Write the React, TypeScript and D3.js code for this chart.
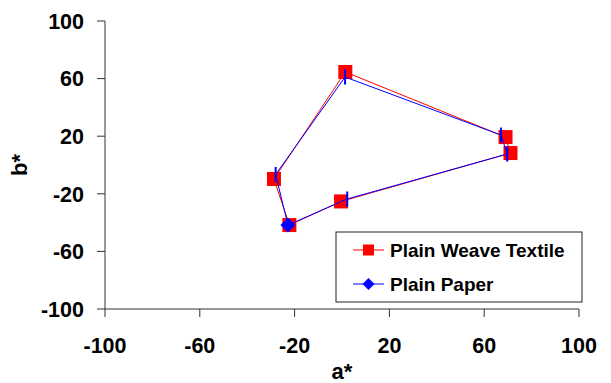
import * as d3 from 'd3';

// Colour coordinates
const textileA = [1.4, 69.0, 71.1, -0.4, -22.2, -28.7, 1.4];
const textileB = [64.6, 19.4, 8.3, -25.3, -41.7, -9.7, 64.6];
const paperA = [1.3, 67.1, 69.7, 2.2, -22.8, -28.0, 1.3];
const paperB = [61.1, 20.8, 7.6, -23.6, -41.7, -6.6, 61.1];
const paperMarkers = ['bar', 'bar', 'bar', 'bar', 'diamond', 'bar', 'bar'];

const xTicks = [-100, -60, -20, 20, 60, 100];
const yTicks = [-100, -60, -20, 20, 60, 100];
const seriesNames = ['Plain Weave Textile', 'Plain Paper'];

const width = 611;
const height = 383;
const margin = { top: 21, right: 32, bottom: 74, left: 105 };
const font = 'Arial, "Liberation Sans", sans-serif';
const axisColor = '#333';

export default function App() {
  const x = d3.scaleLinear().domain([-100, 100]).range([margin.left, width - margin.right]);
  const y = d3.scaleLinear().domain([-100, 100]).range([height - margin.bottom, margin.top]);

  const line = d3
    .line<[number, number]>()
    .x((d) => x(d[0]))
    .y((d) => y(d[1]));

  const textile = textileA.map((a, i) => [a, textileB[i]] as [number, number]);
  const paper = paperA.map((a, i) => [a, paperB[i]] as [number, number]);

  const diamond = (cx: number, cy: number, r: number) =>
    `M${cx},${cy - r}L${cx + r},${cy}L${cx},${cy + r}L${cx - r},${cy}Z`;

  const x0 = x(-100);
  const y0 = y(-100);

  // legend box
  const lg = { x: 336, y: 232, w: 246, h: 70 };

  return (
    <svg
      width={width}
      height={height}
      style={{ position: 'absolute', left: 0, top: 0, background: '#fff' }}
      fontFamily={font}
    >
      {/* Axes */}
      <line x1={x0} x2={x0} y1={y(100)} y2={y0} stroke={axisColor} strokeWidth={1} />
      <line x1={x0} x2={x(100)} y1={y0} y2={y0} stroke={axisColor} strokeWidth={1} />
      {yTicks.map((t) => (
        <g key={`y${t}`}>
          <line x1={x0 - 8} x2={x0} y1={y(t)} y2={y(t)} stroke={axisColor} />
          <text
            x={x0 - 21}
            y={y(t)}
            dy="0.36em"
            textAnchor="end"
            fontSize={21.5}
            fontWeight="bold"
          >
            {t}
          </text>
        </g>
      ))}
      {xTicks.map((t) => (
        <g key={`x${t}`}>
          <line x1={x(t)} x2={x(t)} y1={y0} y2={y0 + 8} stroke={axisColor} />
          <text x={x(t)} y={y0 + 44} textAnchor="middle" fontSize={21.5} fontWeight="bold">
            {t}
          </text>
        </g>
      ))}
      <text
        transform={`translate(27,${(y(100) + y0) / 2}) rotate(-90)`}
        textAnchor="middle"
        fontSize={22}
        fontWeight="bold"
      >
        b*
      </text>
      <text
        x={(x0 + x(100)) / 2}
        y={379}
        textAnchor="middle"
        fontSize={22}
        fontWeight="bold"
      >
        a*
      </text>

      {/* Plain Weave Textile */}
      <path d={line(textile) || ''} fill="none" stroke="#ff0000" strokeWidth={1} />
      {textile.slice(0, -1).map((d, i) => (
        <rect key={`t${i}`} x={x(d[0]) - 7} y={y(d[1]) - 7} width={14} height={14} fill="#ff0000" />
      ))}

      {/* Plain Paper */}
      <path d={line(paper) || ''} fill="none" stroke="#0000ff" strokeWidth={1} />
      {paper.slice(0, -1).map((d, i) =>
        paperMarkers[i] === 'diamond' ? (
          <path key={`p${i}`} d={diamond(x(d[0]), y(d[1]), 7.5)} fill="#0000ff" />
        ) : (
          <rect key={`p${i}`} x={x(d[0]) - 1} y={y(d[1]) - 7.5} width={2} height={15} fill="#0000ff" />
        )
      )}

      {/* Legend */}
      <rect x={lg.x} y={lg.y} width={lg.w} height={lg.h} fill="#fff" stroke="#222" strokeWidth={1} />
      {seriesNames.map((name, i) => {
        const cy = lg.y + 18 + i * 34;
        const color = i === 0 ? '#ff0000' : '#0000ff';
        return (
          <g key={name}>
            <line x1={353} x2={384} y1={cy} y2={cy} stroke={color} strokeWidth={1} />
            {i === 0 ? (
              <rect x={363} y={cy - 5.5} width={11} height={11} fill={color} />
            ) : (
              <path d={diamond(368.5, cy, 6)} fill={color} />
            )}
            <text x={390} y={cy} dy="0.36em" fontSize={19} fontWeight="bold">
              {name}
            </text>
          </g>
        );
      })}
    </svg>
  );
}
